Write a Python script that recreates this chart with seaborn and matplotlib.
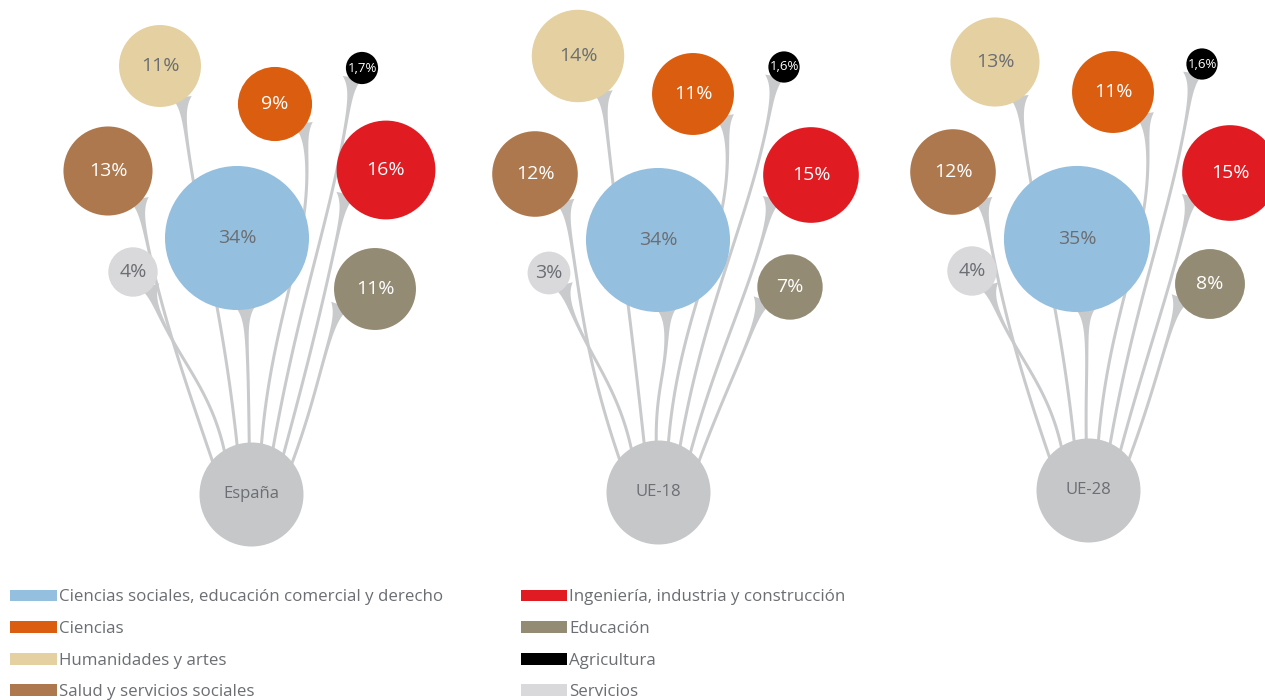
import numpy as np
import pandas as pd
import seaborn as sns
import matplotlib.pyplot as plt
from matplotlib.patches import Patch, Polygon

# Datos: porcentaje de titulados por rama
categorias = ["Ciencias sociales, educación comercial y derecho", "Ciencias",
              "Humanidades y artes", "Salud y servicios sociales",
              "Ingeniería, industria y construcción", "Educación",
              "Agricultura", "Servicios"]
paneles = ["España", "UE-18", "UE-28"]
espana = [34, 9, 11, 13, 16, 11, 1.7, 4]
ue18 = [34, 11, 14, 12, 15, 7, 1.6, 3]
ue28 = [35, 11, 13, 12, 15, 8, 1.6, 4]

colores = ["#95bfdf", "#db5e10", "#e4d0a0", "#ad784d",
           "#e01b22", "#948b74", "#000000", "#d9d9db"]
texto_blanco = [False, True, False, True, True, True, True, False]

# Disposicion (px): raiz de cada arbol y desplazamiento de cada burbuja
raiz_x = [251, 658, 1088]
raiz_y = [494, 492, 490]
raiz_r = 52
offsets = [
    [(-14, -256), (24, -390), (-91, -428), (-143, -323), (135, -324), (124, -205), (111, -426), (-118, -222)],
    [(0, -252), (35, -398), (-80, -436), (-123, -318), (153, -317), (132, -205), (126, -425), (-109, -219)],
    [(-11, -251), (25, -398), (-93, -428), (-135, -318), (142, -317), (122, -206), (114, -426), (-116, -219)],
]
# angulo de salida del tallo en la burbuja y angulo de llegada en la raiz (grados, y hacia abajo)
ang_salida = [83, 35, 55, 42, 149, 155, 135, 40]
ang_llegada = [-92, -78, -106, -140, -50, -36, -64, -122]

K = 12.35  # px de radio por sqrt(%)
GRIS_TALLO = "#c9cacc"
GRIS_TEXTO = "#6b6e72"


def etiqueta(v):
    if float(v).is_integer():
        return f"{int(v)}%"
    return f"{v:.1f}%".replace(".", ",")


def tallo(ax, p0, d0, p3, d3):
    L = p3[1] - p0[1]
    p1 = p0 + d0 * 22 + np.array([0, 0.3 * L])
    p2 = p3 + d3 * 0.45 * L
    t = np.linspace(0, 1, 300)[:, None]
    pts = (1 - t) ** 3 * p0 + 3 * (1 - t) ** 2 * t * p1 + 3 * (1 - t) * t ** 2 * p2 + t ** 3 * p3
    seg = np.diff(pts, axis=0)
    s = np.concatenate([[0], np.cumsum(np.hypot(seg[:, 0], seg[:, 1]))])
    # ensanchamiento concavo junto a la burbuja
    w = 1.5 + 8.5 * np.exp(-s / 11)
    tang = np.gradient(pts, axis=0)
    tang /= np.hypot(tang[:, 0], tang[:, 1])[:, None]
    normal = np.column_stack([-tang[:, 1], tang[:, 0]])
    izq = pts + normal * w[:, None]
    der = pts - normal * w[:, None]
    ax.add_patch(Polygon(np.vstack([izq, der[::-1]]), closed=True,
                         fc=GRIS_TALLO, ec="none", zorder=1))


filas = []
for i, (panel, valores) in enumerate(zip(paneles, [espana, ue18, ue28])):
    for j, cat in enumerate(categorias):
        filas.append({"panel": panel, "categoria": cat, "valor": valores[j],
                      "x": raiz_x[i] + offsets[i][j][0],
                      "y": raiz_y[i] + offsets[i][j][1]})
df = pd.DataFrame(filas)

sns.set_style("white")
plt.rcParams["font.family"] = ["Open Sans", "DejaVu Sans"]

fig = plt.figure(figsize=(12.65, 7), dpi=100)
ax = fig.add_axes([0, 0, 1, 1])

# tallos
for i in range(len(paneles)):
    raiz = np.array([raiz_x[i], raiz_y[i]], dtype=float)
    sub = df[df["panel"] == paneles[i]].reset_index(drop=True)
    for j in range(len(categorias)):
        c = np.array([sub.loc[j, "x"], sub.loc[j, "y"]], dtype=float)
        r = K * np.sqrt(sub.loc[j, "valor"])
        a0 = np.radians(ang_salida[j])
        d0 = np.array([np.cos(a0), np.sin(a0)])
        p0 = c + d0 * (r - 3)
        a3 = np.radians(ang_llegada[j])
        rad = np.array([np.cos(a3), np.sin(a3)])
        p3 = raiz + rad * (raiz_r - 2)
        d3 = rad + np.array([0, -1.6])
        d3 /= np.hypot(*d3)
        tallo(ax, p0, d0, p3, d3)

# burbujas
sns.scatterplot(data=df, x="x", y="y", hue="categoria", palette=dict(zip(categorias, colores)),
                size="valor", sizes=(0, 316.3 * 40), size_norm=(0, 40),
                linewidth=0, legend=False, ax=ax, zorder=3)
ax.scatter(raiz_x, raiz_y, s=(1.44 * raiz_r) ** 2, c="#c6c7c9", linewidths=0, zorder=3)

for _, fila in df.iterrows():
    j = categorias.index(fila["categoria"])
    ax.text(fila["x"], fila["y"], etiqueta(fila["valor"]),
            ha="center", va="center", zorder=4,
            fontsize=9.5 if fila["valor"] < 2 else 14,
            color="white" if texto_blanco[j] else GRIS_TEXTO)
for i, panel in enumerate(paneles):
    ax.text(raiz_x[i], raiz_y[i], panel, ha="center", va="center",
            fontsize=12, color=GRIS_TEXTO, zorder=4)

ax.set_xlim(0, 1265)
ax.set_ylim(700, 0)
ax.axis("off")

handles = [Patch(facecolor=c, edgecolor="none", label=l) for c, l in zip(colores, categorias)]
leg = fig.legend(handles=handles, loc="upper left", bbox_to_anchor=(0.008, 0.158),
                 ncol=2, frameon=False, fontsize=12.2, borderpad=0, borderaxespad=0,
                 handlelength=2.75, handleheight=0.7, handletextpad=0.12,
                 labelspacing=0.92, columnspacing=4.6)
for txt in leg.get_texts():
    txt.set_color(GRIS_TEXTO)

fig.savefig("out.png", dpi=100)
